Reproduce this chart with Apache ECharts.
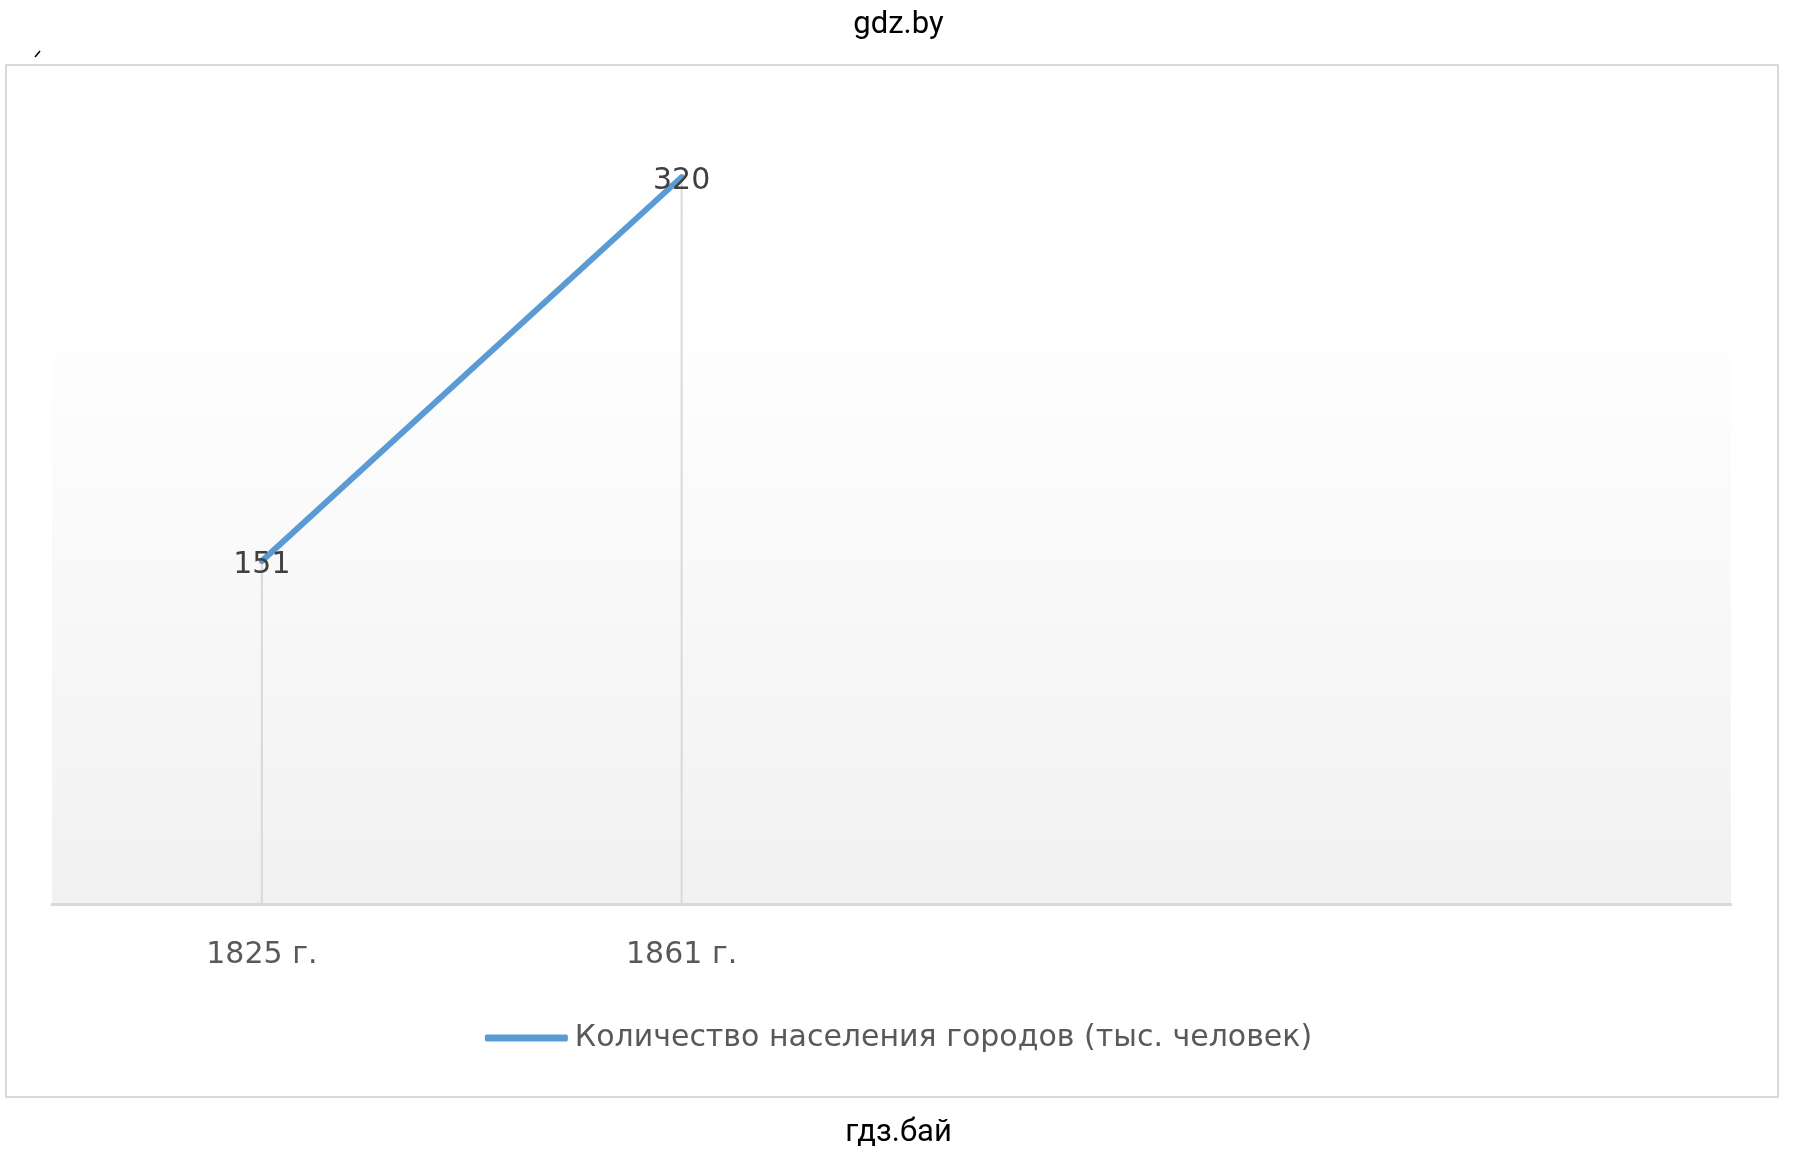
<!DOCTYPE html>
<html>
<head>
<meta charset="utf-8">
<script src="https://cdn.jsdelivr.net/npm/echarts@6/dist/echarts.min.js"></script>
<style>
  html, body { margin: 0; padding: 0; background: #fff; }
  #chart { width: 1797px; height: 1158px; }
</style>
</head>
<body>
<div id="chart"></div>
<script>
// данные диаграммы
const years = ['1825 г.', '1861 г.', '', '']
const population = [151, 320]
const seriesName = 'Количество населения городов (тыс. человек)'
const yMin = 0
const yMax = 350

const chart = echarts.init(document.getElementById('chart'))

const labelFont = 'DejaVu Sans'

chart.setOption({
  backgroundColor: '#ffffff',
  animation: false,
  title: [
    {
      text: 'gdz.by',
      left: 'center',
      top: 5,
      textStyle: { fontFamily: 'Roboto', fontSize: 31, fontWeight: 'normal', color: '#000' }
    },
    {
      text: 'гдз.бай',
      left: 'center',
      top: 1113,
      textStyle: { fontFamily: 'Roboto', fontSize: 31, fontWeight: 'normal', color: '#000' }
    }
  ],
  graphic: [
    {
      type: 'rect',
      shape: { x: 6, y: 65, width: 1772, height: 1032 },
      style: { fill: 'none', stroke: '#d9d9d9', lineWidth: 2 },
      silent: true
    },
    {
      type: 'line',
      shape: { x1: 35, y1: 57, x2: 40, y2: 51 },
      style: { stroke: '#000', lineWidth: 1.5 },
      silent: true
    }
  ],
  legend: {
    data: [seriesName],
    left: 'center',
    top: 1018,
    icon: 'roundRect',
    itemWidth: 83,
    itemHeight: 7,
    itemGap: 10,
    textStyle: { fontFamily: labelFont, fontSize: 30, color: '#595959', padding: [0, 0, 0, 2] }
  },
  grid: {
    left: 52,
    right: 66,
    top: 109,
    bottom: 254,
    show: true,
    borderWidth: 0,
    backgroundColor: {
      type: 'linear',
      x: 0, y: 0, x2: 0, y2: 1,
      colorStops: [
        { offset: 0, color: '#ffffff' },
        { offset: 0.3, color: '#fefefe' },
        { offset: 1, color: '#f1f1f1' }
      ]
    }
  },
  xAxis: {
    type: 'category',
    data: years,
    boundaryGap: true,
    axisLine: { lineStyle: { color: '#d9d9d9', width: 3 } },
    axisTick: { show: false },
    splitLine: { show: false },
    axisLabel: {
      margin: 36,
      fontFamily: labelFont,
      fontSize: 30,
      color: '#595959'
    }
  },
  yAxis: {
    type: 'value',
    min: yMin,
    max: yMax,
    show: false,
    splitLine: { show: false }
  },
  series: [
    {
      // вертикальные линии от точек к оси
      type: 'bar',
      data: population,
      barWidth: 2,
      barGap: '-100%',
      silent: true,
      z: 1,
      itemStyle: { color: '#d9d9d9' }
    },
    {
      name: seriesName,
      type: 'line',
      data: population,
      z: 3,
      symbol: 'circle',
      symbolSize: 1,
      itemStyle: { color: '#5b9bd5' },
      lineStyle: { color: '#5b9bd5', width: 6, cap: 'round' },
      label: {
        show: true,
        position: 'inside',
        offset: [0, 4],
        fontFamily: labelFont,
        fontSize: 30,
        color: '#404040'
      }
    }
  ]
})
</script>
</body>
</html>
